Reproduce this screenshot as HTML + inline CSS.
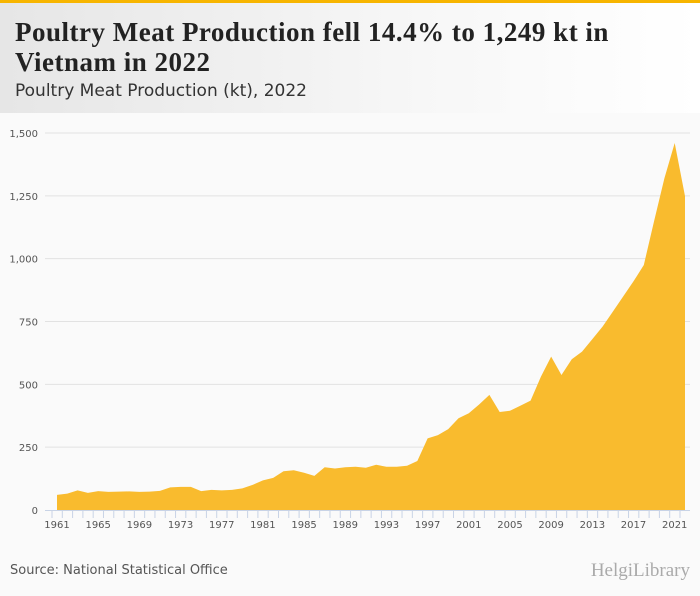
<!DOCTYPE html>
<html><head><meta charset="utf-8"><style>
body{margin:0;width:700px;height:596px;background:#fafafa;font-family:"DejaVu Sans",sans-serif;overflow:hidden;position:relative}
#topbar{position:absolute;left:0;top:0;width:700px;height:3px;background:#f7b500}
#header{position:absolute;left:0;top:3px;width:700px;height:110px;background:linear-gradient(90deg,#e6e6e6,#f7f7f7 60%,#fff)}
#title{position:absolute;left:15px;top:14px;font-family:"Liberation Serif",serif;font-weight:bold;font-size:27px;letter-spacing:0.5px;line-height:30px;color:#222;white-space:nowrap}
#subtitle{position:absolute;left:15px;top:78px;font-size:17px;color:#333}
#source{position:absolute;left:10px;top:563px;font-size:13px;color:#555}
#logo{position:absolute;right:10px;top:560px;font-size:19px;color:#aaa;font-family:"Liberation Serif",serif}
svg{position:absolute;left:0;top:0}
</style></head><body>
<div id="topbar"></div>
<div id="header">
<div id="title">Poultry Meat Production fell 14.4% to 1,249 kt in<br>Vietnam in 2022</div>
<div id="subtitle">Poultry Meat Production (kt), 2022</div>
</div>
<svg id="chart" width="700" height="596"></svg>
<div id="source">Source: National Statistical Office</div>
<div id="logo">HelgiLibrary</div>
<script>
const years=[];for(let y=1961;y<=2022;y++)years.push(y);
const values=[60,65,78,68,75,72,73,74,72,73,76,90,92,92,75,80,78,80,86,100,118,128,154,158,148,136,170,165,170,172,168,180,172,172,176,195,285,298,322,365,385,420,458,390,395,415,435,530,610,537,600,630,680,730,790,850,910,975,1150,1320,1460,1249];
const yTicks=[0,250,500,750,1000,1250,1500];
const xLabels=[1961,1965,1969,1973,1977,1981,1985,1989,1993,1997,2001,2005,2009,2013,2017,2021];
const NS="http://www.w3.org/2000/svg";
const svg=document.getElementById('chart');
const X0=57,X1=685,Y0=510,Y1=133,XL=45,XR=690;
const xs=y=>X0+(y-1961)*(X1-X0)/(2022-1961);
const ys=v=>Y0-v*(Y0-Y1)/1500;
function mk(t,a){const e=document.createElementNS(NS,t);for(const k in a)e.setAttribute(k,a[k]);svg.appendChild(e);return e;}
yTicks.forEach(t=>{
 if(t>0){const g=mk('line',{x1:XL,x2:XR,y1:ys(t),y2:ys(t),stroke:'#e2e2e2','stroke-width':1});
 
 }
 const l=mk('text',{x:38,y:ys(t)+4,'text-anchor':'end','font-size':10,fill:'#555','font-family':'DejaVu Sans'});
 l.textContent=t.toLocaleString('en-US');
 
 
});
let d='M'+xs(years[0])+','+ys(0);
years.forEach((y,i)=>{d+=' L'+xs(y)+','+ys(values[i]);});
d+=' L'+xs(years[years.length-1])+','+ys(0)+' Z';
const area=mk('path',{d:d,fill:'#f9bb2e'});


const ax=mk('line',{x1:XL,x2:XR,y1:Y0+0.5,y2:Y0+0.5,stroke:'#c8d3e6','stroke-width':1});


years.forEach(y=>{const t=mk('line',{x1:xs(y)-5,x2:xs(y)-5,y1:Y0,y2:Y0+8,stroke:'#c8d3e6'});
 
 });
xLabels.forEach(y=>{const l=mk('text',{x:xs(y),y:Y0+18,'text-anchor':'middle','font-size':10,fill:'#555','font-family':'DejaVu Sans'});
 l.textContent=y;
 
 });
</script>
</body></html>
